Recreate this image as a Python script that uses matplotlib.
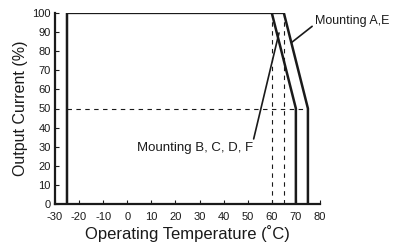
import matplotlib.pyplot as plt

# derating curves (temperature, output current %)
temp_ae = [-25, -25, 65, 75, 75]
curr_ae = [0, 100, 100, 50, 0]
temp_bf = [60, 70, 70]
curr_bf = [100, 50, 0]

x_ticks = [-30, -20, -10, 0, 10, 20, 30, 40, 50, 60, 70, 80]
y_ticks = [0, 10, 20, 30, 40, 50, 60, 70, 80, 90, 100]

plt.rcParams['font.family'] = ['Liberation Sans', 'DejaVu Sans']
plt.rcParams['axes.unicode_minus'] = False

fig = plt.figure(figsize=(4.04, 2.48), dpi=100)
ax = fig.add_axes([0.136, 0.177, 0.656, 0.771])

ink = '#1a1a1a'
ax.plot(temp_ae, curr_ae, color=ink, lw=1.8, solid_joinstyle='miter')
ax.plot(temp_bf, curr_bf, color=ink, lw=1.8, solid_joinstyle='miter')

# dashed guides
ax.plot([-25, 75], [50, 50], color=ink, lw=0.8, ls=(0, (4, 4)))
ax.plot([60, 60], [0, 100], color=ink, lw=0.8, ls=(0, (4, 4)))
ax.plot([65, 65], [0, 100], color=ink, lw=0.8, ls=(0, (4, 4)))

ax.set_xlim(-30, 80)
ax.set_ylim(0, 100)
ax.set_xticks(x_ticks)
ax.set_yticks(y_ticks)
ax.tick_params(direction='in', length=3, width=0.8, labelsize=8, colors=ink)
ax.tick_params(axis='x', pad=6)
ax.tick_params(axis='y', pad=3)
for s in ['top', 'right']:
    ax.spines[s].set_visible(False)
for s in ['left', 'bottom']:
    ax.spines[s].set_linewidth(1.6)
    ax.spines[s].set_color(ink)

ax.set_xlabel('Operating Temperature (˚C)', fontsize=12, labelpad=2, color=ink)
ax.set_ylabel('Output Current (%)', fontsize=11.5, labelpad=3, color=ink)

ax.annotate('Mounting A,E', xy=(68.2, 84.5), xytext=(77.9, 96),
            fontsize=9, va='center', ha='left', annotation_clip=False, color=ink,
            arrowprops=dict(arrowstyle='-', color=ink, lw=1.2, shrinkA=0, shrinkB=0,
                            relpos=(0.0, 0.2)))
ax.annotate('Mounting B, C, D, F', xy=(63.0, 89.5), xytext=(52.2, 29.5),
            fontsize=9.5, va='center', ha='right', annotation_clip=False, color=ink,
            arrowprops=dict(arrowstyle='-', color=ink, lw=1.2, shrinkA=0, shrinkB=0,
                            relpos=(1.0, 1.0)))

fig.savefig('out.png', dpi=100)
